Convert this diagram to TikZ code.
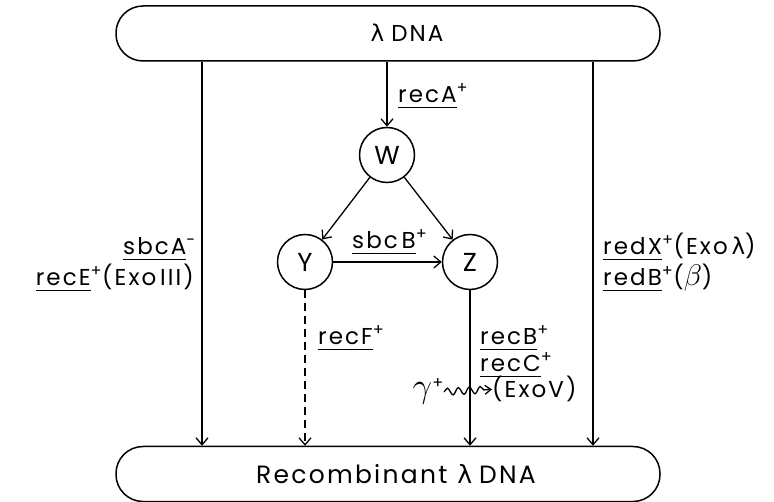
\documentclass[tikz,border=0pt]{standalone}
\usepackage{graphicx}
\usepackage{fontspec}
\setmainfont{Poppins}[LetterSpace=9]
\newfontfamily\grk{DejaVu Sans}
\usetikzlibrary{arrows.meta,decorations.pathmorphing}
\newcommand\gn[1]{\leavevmode\setbox0\hbox{#1}\rlap{\rule[-5pt]{\wd0}{1.4pt}}\box0}
\newcommand\pl{\textsuperscript{+}}
\begin{document}
\begin{tikzpicture}[x=1pt,y=-1pt,
  font=\fontsize{23}{26}\selectfont,
  arr/.style={line width=1.3pt,-{Straight Barb[length=7pt,width=12pt,line width=1.3pt]}},
  pill/.style={draw,line width=1.5pt,rounded corners=27pt,minimum width=544pt,minimum height=55pt,inner sep=0},
  circ/.style={draw,circle,line width=1.5pt,minimum size=55pt,inner sep=0,font=\fontsize{26}{28}\selectfont},
  lbl/.style={inner sep=0}]
\useasboundingbox (0,0) rectangle (774,502);
\node[pill] (top) at (388,33.5) {};
\node[lbl] (toptxt) at (407,33) {{\grk λ}\hspace{7pt}DNA};
\node[pill] (bot) at (388,474) {};
\node[lbl,font=\fontsize{25}{28}\selectfont] (bottxt) at (396,474) {Recombinant\hspace{10pt}{\grk λ}\hspace{7pt}DNA};
\node[circ] (W) at (387,155) {W};
\node[circ] (Y) at (305,262) {Y};
\node[circ] (Z) at (470,262) {Z};
\coordinate (L) at (202,0);
\coordinate (R) at (593,0);
\draw[arr] (L |- top.south) -- (L |- bot.north);
\draw[arr] (R |- top.south) -- (R |- bot.north);
\draw[arr] (top.south -| W) -- (W);
\draw[arr] (W) -- (Y);
\draw[arr] (W) -- (Z);
\draw[arr] (Y) -- (Z);
\draw[arr,dash pattern=on 8pt off 5pt] (Y) -- (Y |- bot.north);
\draw[arr] (Z) -- (Z |- bot.north);
\node[lbl,anchor=base west] (recA) at (398,103) {\gn{recA}\pl};
\node[lbl,anchor=base west] (sbcB) at (352,249) {\gn{sbc\,B}\pl};
\node[lbl,anchor=base east] (sbcA) at (196,255) {\gn{sbcA}\textsuperscript{-}};
\node[lbl,anchor=base east] (recE) at (194,286) {\gn{recE}\pl(Exo\,III)};
\node[lbl,anchor=base west] (redX) at (603,255) {\gn{redX}\pl(Exo\,{\grk λ})};
\node[lbl,anchor=base west] (redB) at (603,286) {\gn{redB}\pl(\scalebox{1.2}{$\beta$})};
\node[lbl,anchor=base west] (recF) at (318,345) {\gn{recF}\pl};
\node[lbl,anchor=base west] (recB) at (480,345) {\gn{recB}\pl};
\node[lbl,anchor=base west] (recC) at (480,372) {\gn{recC}\pl};
\node[lbl,anchor=base west] (exoV) at (492,398) {(ExoV)};
\node[lbl,anchor=base east] (gam) at (444,398) {\scalebox{1.4}{$\gamma$}\pl};
\draw[line width=1.3pt,decorate,decoration={snake,amplitude=3.5pt,segment length=11pt,post length=6pt},-{Straight Barb[length=6pt,width=9pt,line width=1.3pt]}] (gam.east) -- (exoV.west);
\end{tikzpicture}
\end{document}
